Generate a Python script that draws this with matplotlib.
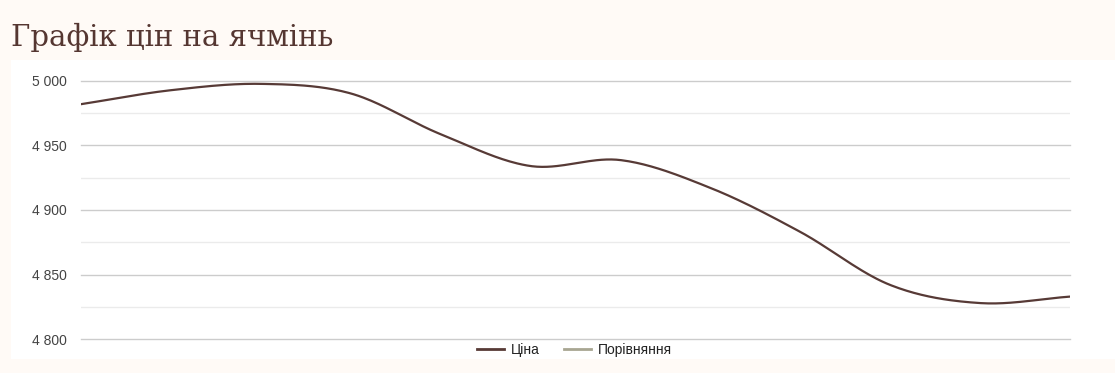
import matplotlib.pyplot as plt
import numpy as np
from matplotlib.patches import Rectangle
from matplotlib.lines import Line2D

# Values (12 evenly spaced points, x axis hidden)
points = list(range(12))
price = [4981.7, 4992.5, 4997.4, 4990.0, 4958.5, 4933.9,
         4938.5, 4917.0, 4883.0, 4842.0, 4828.0, 4833.0]
y_ticks = [4800, 4850, 4900, 4950, 5000]
y_labels = ["4 800", "4 850", "4 900", "4 950", "5 000"]
title = "Графік цін на ячмінь"
legend_labels = ["Ціна", "Порівняння"]

BG = "#fffaf6"
LINE = "#573a36"
COMPARE = "#a8a692"


def smooth(x, y, n=400):
    # cubic Hermite curve through the points (drawing only, like curveType 'function')
    x = np.asarray(x, float)
    y = np.asarray(y, float)
    m = np.gradient(y, x)
    xs = np.linspace(x[0], x[-1], n)
    idx = np.clip(np.searchsorted(x, xs) - 1, 0, len(x) - 2)
    h = x[idx + 1] - x[idx]
    t = (xs - x[idx]) / h
    h00 = 2 * t**3 - 3 * t**2 + 1
    h10 = t**3 - 2 * t**2 + t
    h01 = -2 * t**3 + 3 * t**2
    h11 = t**3 - t**2
    ys = h00 * y[idx] + h10 * h * m[idx] + h01 * y[idx + 1] + h11 * h * m[idx + 1]
    return xs, ys


W, H = 1115, 373
fig = plt.figure(figsize=(W / 100, H / 100), dpi=100, facecolor=BG)

# white panel behind the chart
fig.patches.append(Rectangle((11 / W, 1 - 359 / H), 1 - 11 / W, 299 / H,
                             transform=fig.transFigure, facecolor="white",
                             edgecolor="none", zorder=-1))

fig.text(11 / W, 1 - 46 / H, title, fontsize=21, family="DejaVu Serif",
         color="#553631", va="baseline", ha="left")

ax = fig.add_axes([81 / W, 1 - 339.3 / H, (1070 - 81) / W, (339.3 - 80.5) / H])
ax.set_facecolor("white")
ax.set_xlim(points[0], points[-1])
ax.set_ylim(4800, 5000)

for v in np.arange(4825, 5000, 50):
    ax.axhline(v, color="#ebebeb", linewidth=1, zorder=1)
for v in y_ticks:
    ax.axhline(v, color="#cccccc", linewidth=1, zorder=1, clip_on=False)

xs, ys = smooth(points, price)
ax.plot(xs, ys, color=LINE, linewidth=1.6, zorder=3, solid_capstyle="round")

ax.set_yticks(y_ticks)
ax.set_yticklabels(y_labels, family="Liberation Sans", fontsize=10, color="#444444")
ax.tick_params(axis="y", length=0, pad=10)
ax.set_xticks([])
for s in ax.spines.values():
    s.set_visible(False)

handles = [Line2D([], [], color=LINE, linewidth=2),
           Line2D([], [], color=COMPARE, linewidth=2)]
fig.legend(handles, legend_labels, loc="center", bbox_to_anchor=(574.5 / W, 1 - 350 / H),
           ncol=2, frameon=False, handlelength=1.95, handletextpad=0.5,
           columnspacing=1.7, borderpad=0, borderaxespad=0,
           labelcolor="#222222",
           prop={"family": "Liberation Sans", "size": 10})

fig.savefig("out.png", dpi=100, facecolor=BG)
